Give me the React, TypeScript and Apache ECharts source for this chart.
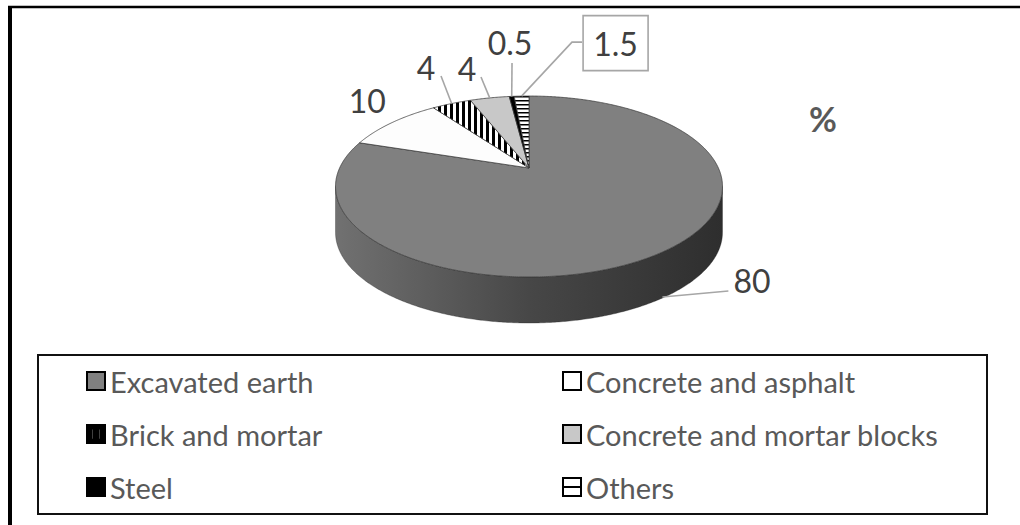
import { useEffect, useRef } from 'react';
import * as echarts from 'echarts';

// Composition of the waste stream, in percent
const categories = [
  'Excavated earth',
  'Concrete and asphalt',
  'Brick and mortar',
  'Concrete and mortar blocks',
  'Steel',
  'Others',
];
const shares = [80, 10, 4, 4, 0.5, 1.5];
const unitTitle = '%';

// Tilted-disc geometry (pixels): apex of the slices, half-axes, perspective factor, rim depth
const DISC = { cx: 529, cy: 168, a: 189.4, b: 86.7, k: 0.2045, depth: 46 };

// Where each value label sits relative to its slice anchor (offsets in px)
type LabelSpot = {
  base: boolean; // anchor on the lower rim edge instead of the top edge
  text: [number, number];
  align: 'left' | 'center';
  leader: [number, number][] | null;
  boxed?: boolean;
};
const labelSpots: LabelSpot[] = [
  { base: true, text: [71, -17], align: 'left', leader: [[66, -6]] },
  { base: false, text: [-25, -22], align: 'center', leader: null },
  { base: false, text: [-25.6, -35.6], align: 'center', leader: [[-10.6, -27.6]] },
  { base: false, text: [-22.7, -29.9], align: 'center', leader: [[-8.7, -20.9]] },
  { base: false, text: [-1.7, -53.4], align: 'center', leader: [[0.3, -33.4]] },
  { base: false, text: [94, -53], align: 'center', leader: [[50.4, -54], [60.4, -54]], boxed: true },
];

const FONT = 'Lato, "Open Sans", sans-serif';

function stripePattern(vertical: boolean, period: number, ink: number) {
  const c = document.createElement('canvas');
  c.width = period;
  c.height = period;
  const g = c.getContext('2d')!;
  g.fillStyle = '#ffffff';
  g.fillRect(0, 0, period, period);
  g.fillStyle = '#000000';
  if (vertical) g.fillRect(0, 0, ink, period);
  else g.fillRect(0, 0, period, ink);
  return { image: c, repeat: 'repeat' } as any;
}

function project(theta: number, drop = 0): [number, number] {
  const r = (theta * Math.PI) / 180;
  const X = Math.sin(r);
  const Z = Math.cos(r);
  const w = 1 + DISC.k * Z;
  return [DISC.cx + (DISC.a * X) / w, DISC.cy - (DISC.b * Z) / w + drop];
}

function arc(from: number, to: number, drop = 0): [number, number][] {
  const pts: [number, number][] = [];
  const steps = Math.max(2, Math.ceil(Math.abs(to - from) / 0.5));
  for (let s = 0; s <= steps; s++) pts.push(project(from + ((to - from) * s) / steps, drop));
  return pts;
}

export default function App() {
  const ref = useRef<HTMLDivElement>(null);

  useEffect(() => {
    if (!ref.current) return;
    const chart = echarts.init(ref.current, null, { renderer: 'svg' });

    const total = shares.reduce((s, v) => s + v, 0);
    const starts: number[] = [];
    let acc = 0;
    shares.forEach((v) => {
      starts.push((acc / total) * 360);
      acc += v;
    });

    const brick = stripePattern(true, 6, 3);
    const others = stripePattern(false, 4, 1.5);
    const topFills: any[] = ['#808080', '#fdfdfd', brick, '#c8c8c8', '#000000', others];
    const rimFills: any[] = [
      new echarts.graphic.LinearGradient(0, 0, 1, 0, [
        { offset: 0, color: '#717171' },
        { offset: 0.5, color: '#474747' },
        { offset: 1, color: '#2e2e2e' },
      ]),
      '#bcbcbc',
      brick,
      '#9a9a9a',
      '#000000',
      others,
    ];
    // Legend swatches: striped ones are drawn as shapes with cut-outs
    const legendIcons = [
      'rect',
      'rect',
      'path://M0,0H16V16H0ZM4,3V13H6V3ZM10,3V13H12V3Z',
      'rect',
      'rect',
      'path://M0,0H16V16H0ZM0,8H16',
    ];
    const legendFills = ['#808080', '#ffffff', '#000000', '#c8c8c8', '#000000', '#ffffff'];

    // Visible part of the rim lies between the two silhouette angles
    const sil = (Math.acos(-DISC.k) * 180) / Math.PI;
    const rimLo = sil;
    const rimHi = 360 - sil;

    const renderItem = (_params: any, api: any) => {
      const i = api.value(0) as number;
      const v = api.value(1) as number;
      const a0 = starts[i];
      const a1 = a0 + (v / total) * 360;
      const children: any[] = [];

      const lo = Math.max(a0, rimLo);
      const hi = Math.min(a1, rimHi);
      if (hi > lo) {
        const pts = [...arc(lo, hi), ...arc(hi, lo, DISC.depth)];
        children.push({
          type: 'polygon',
          z2: 1,
          shape: { points: pts },
          style: { fill: rimFills[i], stroke: 'rgba(30,30,30,0.55)', lineWidth: 0.6 },
        });
      }

      children.push({
        type: 'polygon',
        z2: 2,
        shape: { points: [[DISC.cx, DISC.cy], ...arc(a0, a1)] },
        style: { fill: topFills[i], stroke: '#3a3a3a', lineWidth: 0.75 },
      });

      const spot = labelSpots[i];
      const mid = (a0 + a1) / 2;
      const [ax, ay] = project(mid, spot.base ? DISC.depth - 1 : 0);
      const tx = ax + spot.text[0];
      const ty = ay + spot.text[1];
      if (spot.leader) {
        children.push({
          type: 'polyline',
          z2: 3,
          shape: { points: [[ax, ay], ...spot.leader.map(([dx, dy]) => [ax + dx, ay + dy])] },
          style: { fill: null, stroke: '#a6a6a6', lineWidth: 1.6 },
        });
      }
      if (spot.boxed) {
        children.push({
          type: 'rect',
          z2: 3,
          shape: { x: tx - 32.5, y: ty - 27.5, width: 65, height: 55 },
          style: { fill: '#ffffff', stroke: '#a6a6a6', lineWidth: 1.6 },
        });
      }
      children.push({
        type: 'text',
        z2: 4,
        style: {
          text: String(v),
          x: tx,
          y: ty,
          align: spot.align,
          verticalAlign: 'middle',
          fill: '#404040',
          font: `32px ${FONT}`,
        },
      });

      return { type: 'group', children };
    };

    const legendItem = (i: number) => ({
      name: categories[i],
      icon: legendIcons[i],
      itemStyle: { color: legendFills[i], borderColor: '#000000', borderWidth: 2 },
    });
    const legendBase = {
      orient: 'vertical' as const,
      top: 366,
      padding: 0,
      itemWidth: 18,
      itemHeight: 18,
      itemGap: 23,
      itemTextGap: 5,
      selectedMode: false,
      textStyle: { fontFamily: FONT, fontSize: 29, lineHeight: 30, color: '#595959' },
    };

    chart.setOption({
      animation: false,
      backgroundColor: '#ffffff',
      title: {
        text: unitTitle,
        left: 809,
        top: 101,
        padding: 0,
        textStyle: { fontFamily: FONT, fontWeight: 'bold', fontSize: 34, color: '#595959' },
      },
      legend: [
        { ...legendBase, left: 86, data: [0, 2, 4].map(legendItem) },
        { ...legendBase, left: 562, data: [1, 3, 5].map(legendItem) },
      ],
      graphic: [
        // chart frame (top and left edges)
        { type: 'line', shape: { x1: 8, y1: 7, x2: 1020, y2: 7 }, style: { stroke: '#000', lineWidth: 2.5 } },
        { type: 'line', shape: { x1: 10, y1: 6, x2: 10, y2: 525 }, style: { stroke: '#000', lineWidth: 4 } },
        // legend frame
        {
          type: 'rect',
          z: -1,
          shape: { x: 38, y: 355, width: 949, height: 159 },
          style: { fill: null, stroke: '#111', lineWidth: 2 },
        },
      ],
      series: categories.map((name, i) => ({
        type: 'custom',
        name,
        coordinateSystem: 'none',
        silent: true,
        itemStyle: { color: topFills[i] },
        data: [[i, shares[i]]],
        renderItem,
      })),
    });

    return () => chart.dispose();
  }, []);

  return (
    <div
      ref={ref}
      style={{ position: 'absolute', left: 0, top: 0, width: 1020, height: 525, background: '#fff' }}
    />
  );
}
